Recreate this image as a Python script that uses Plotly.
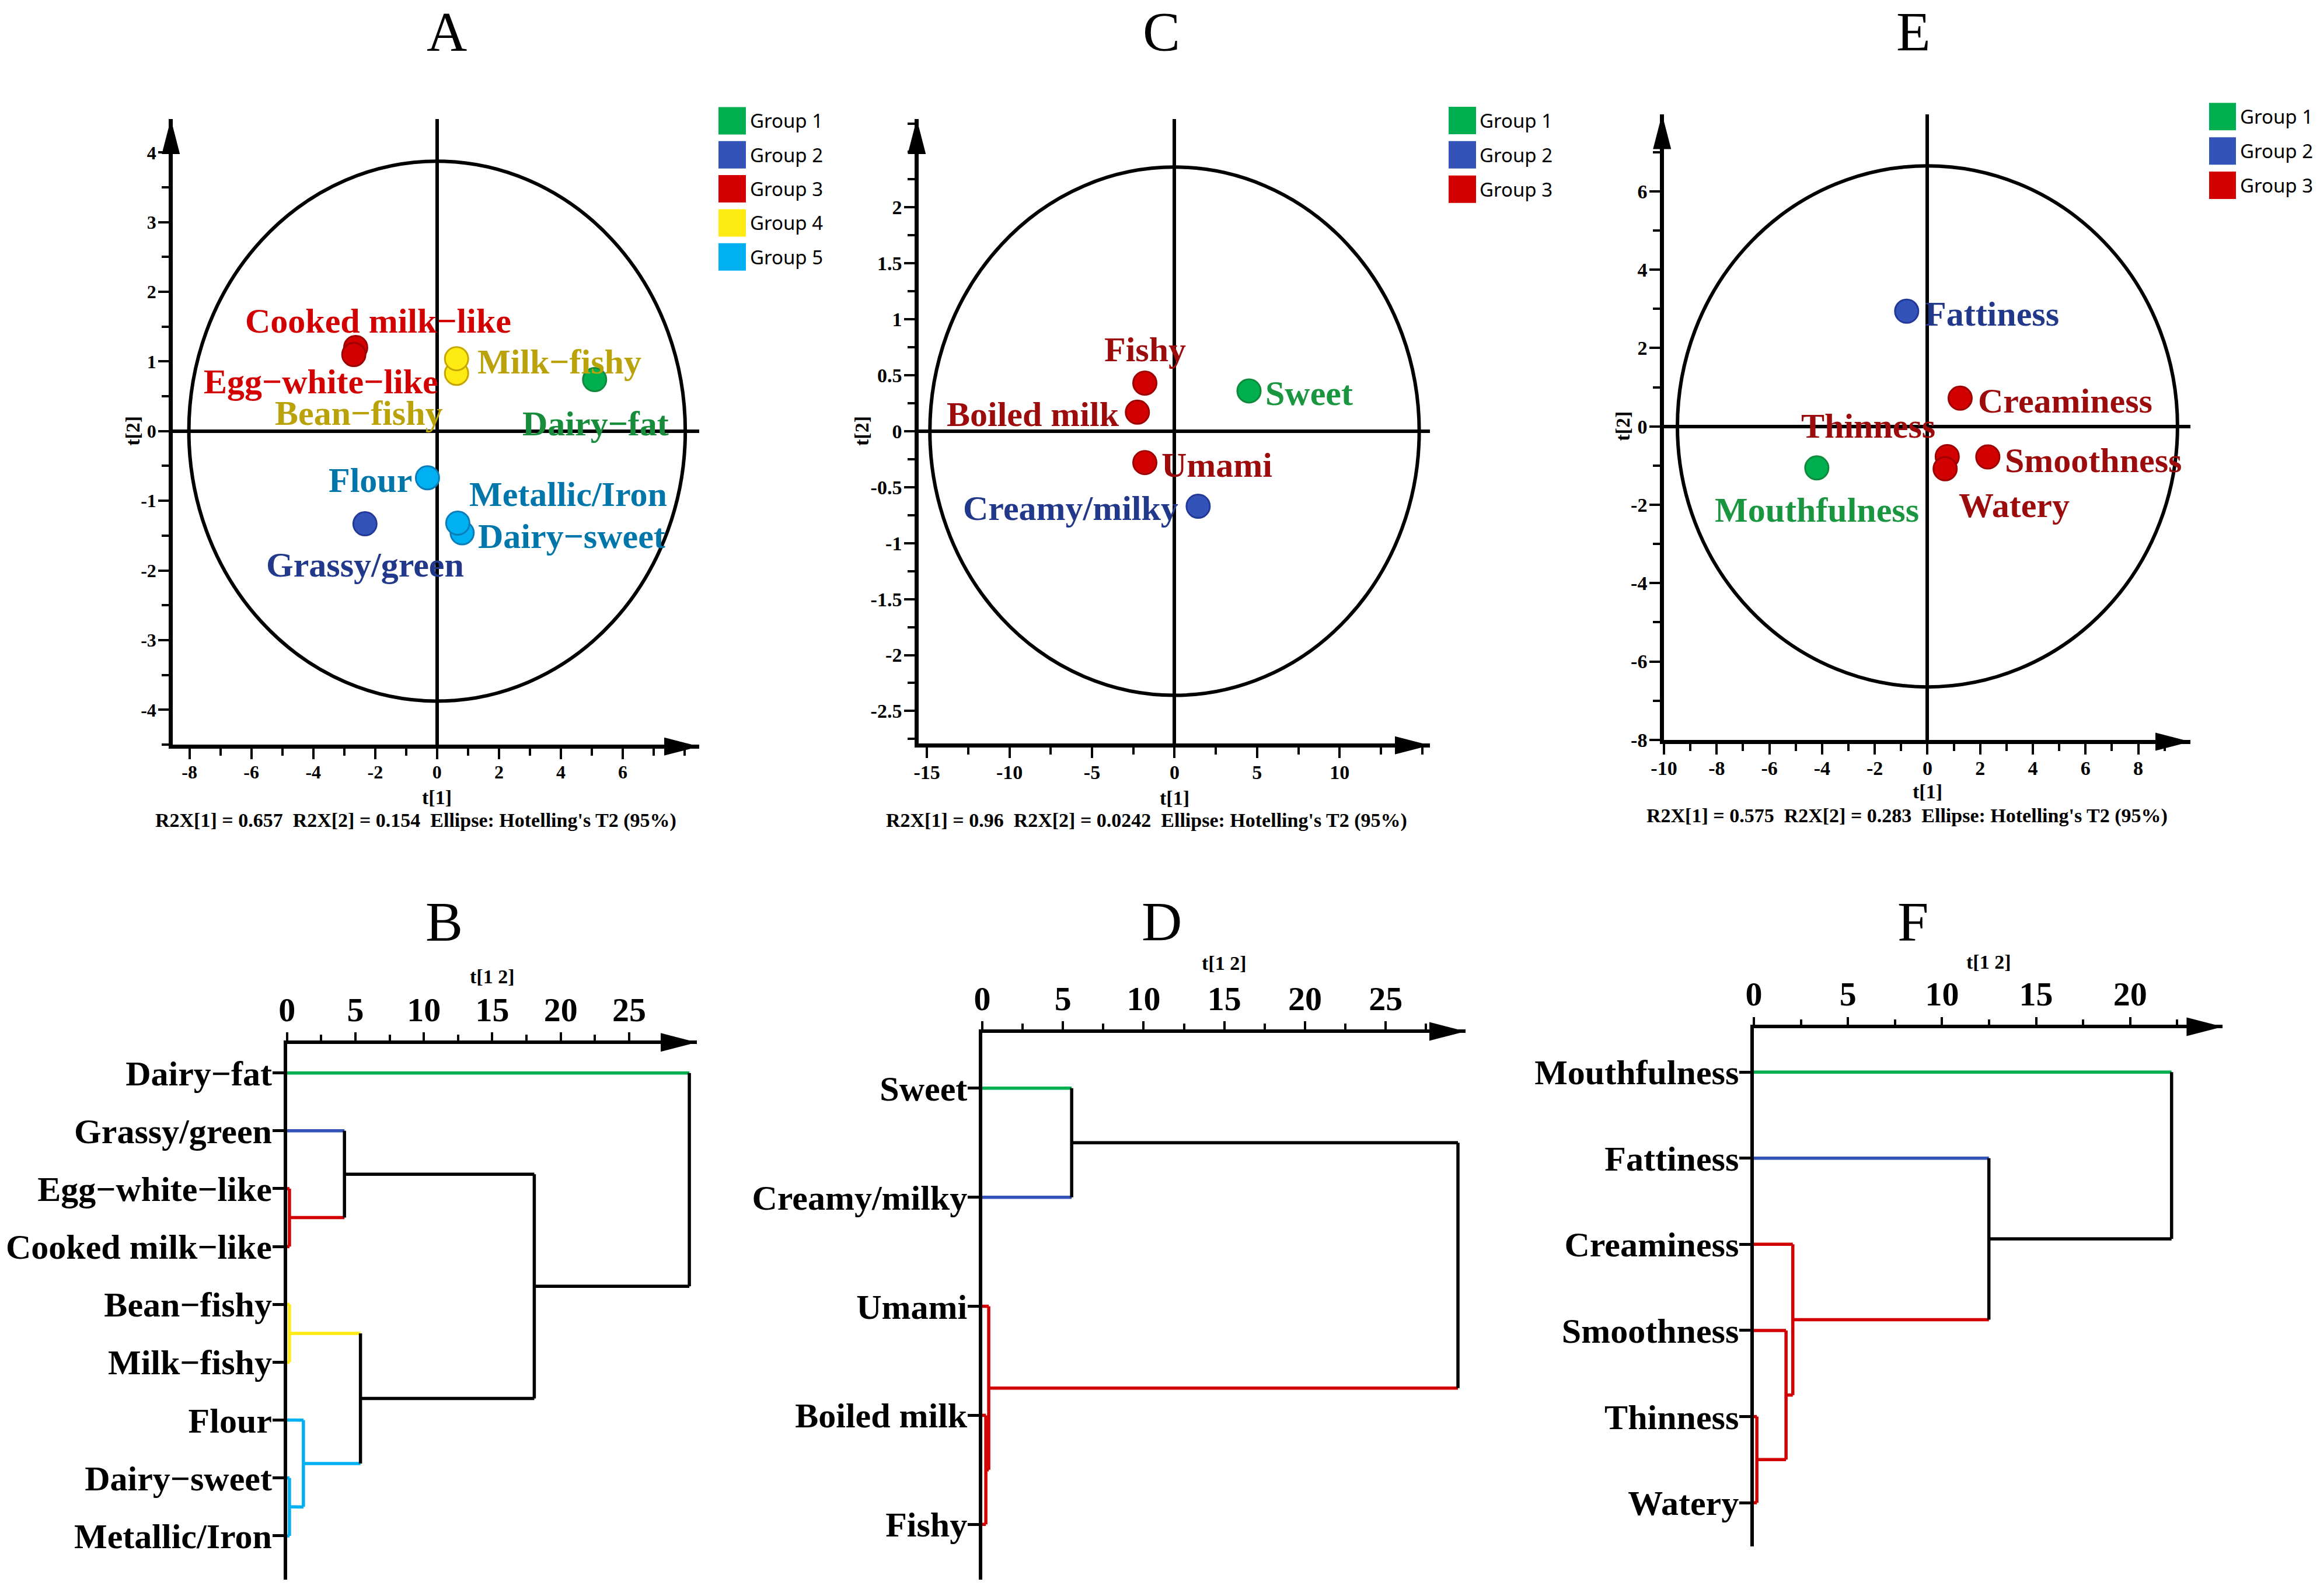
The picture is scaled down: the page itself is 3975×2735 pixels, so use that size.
import plotly.graph_objects as go

# ======================= DATA =======================
GROUP_NAMES = ["Group 1", "Group 2", "Group 3", "Group 4", "Group 5"]

# Panel A - PCA of aroma attributes
A_ATTR = ["Cooked milk−like", "Egg−white−like", "Bean−fishy", "Milk−fishy", "Dairy−fat",
          "Flour", "Grassy/green", "Dairy−sweet", "Metallic/Iron"]
A_T1 = [-2.63, -2.69, 0.63, 0.63, 5.09, -0.31, -2.33, 0.81, 0.67]
A_T2 = [1.20, 1.10, 0.83, 1.04, 0.74, -0.67, -1.33, -1.46, -1.32]
A_GROUP = [3, 3, 4, 4, 1, 5, 2, 5, 5]
A_R2X = ["0.657", "0.154"]
A_ELLIPSE = [8.02, 3.875]
A_XTICKS = [-8, -6, -4, -2, 0, 2, 4, 6]
A_YTICKS = [-4, -3, -2, -1, 0, 1, 2, 3, 4]

# Panel C - PCA of taste attributes
C_ATTR = ["Fishy", "Boiled milk", "Umami", "Creamy/milky", "Sweet"]
C_T1 = [-1.80, -2.25, -1.80, 1.43, 4.51]
C_T2 = [0.43, 0.17, -0.28, -0.67, 0.36]
C_GROUP = [3, 3, 3, 2, 1]
C_R2X = ["0.96", "0.0242"]
C_ELLIPSE = [14.82, 2.36]
C_XTICKS = [-15, -10, -5, 0, 5, 10]
C_YTICKS = [-2.5, -2, -1.5, -1, -0.5, 0, 0.5, 1, 1.5, 2]

# Panel E - PCA of mouthfeel attributes
E_ATTR = ["Fattiness", "Creaminess", "Thinness", "Watery", "Smoothness", "Mouthfulness"]
E_T1 = [-0.79, 1.24, 0.75, 0.67, 2.29, -4.20]
E_T2 = [2.94, 0.72, -0.77, -1.08, -0.78, -1.06]
E_GROUP = [2, 3, 3, 3, 3, 1]
E_R2X = ["0.575", "0.283"]
E_ELLIPSE = [9.49, 6.65]
E_XTICKS = [-10, -8, -6, -4, -2, 0, 2, 4, 6, 8]
E_YTICKS = [-8, -6, -4, -2, 0, 2, 4, 6]

# Panel B - dendrogram (leaf order, merges: node a + node b at height)
B_LEAVES = ["Dairy−fat", "Grassy/green", "Egg−white−like", "Cooked milk−like", "Bean−fishy",
            "Milk−fishy", "Flour", "Dairy−sweet", "Metallic/Iron"]
B_JOIN_A = [2, 4, 7, 6, 1, 10, 13, 0]
B_JOIN_B = [3, 5, 8, 11, 9, 12, 14, 15]
B_HEIGHT = [0.18, 0.18, 0.18, 1.2, 4.2, 5.37, 18.07, 29.4]
B_XTICKS = [0, 5, 10, 15, 20, 25]

# Panel D - dendrogram
D_LEAVES = ["Sweet", "Creamy/milky", "Umami", "Boiled milk", "Fishy"]
D_JOIN_A = [3, 2, 0, 7]
D_JOIN_B = [4, 5, 1, 6]
D_HEIGHT = [0.22, 0.40, 5.54, 29.48]
D_XTICKS = [0, 5, 10, 15, 20, 25]

# Panel F - dendrogram
F_LEAVES = ["Mouthfulness", "Fattiness", "Creaminess", "Smoothness", "Thinness", "Watery"]
F_JOIN_A = [4, 3, 2, 1, 0]
F_JOIN_B = [5, 6, 7, 8, 9]
F_HEIGHT = [0.16, 1.71, 2.07, 12.49, 22.2]
F_XTICKS = [0, 5, 10, 15, 20]

# ======================= STYLE / LAYOUT =======================
W, H = 3975, 2735
SERIF = "Liberation Serif"
SANS = "Noto Sans"
GROUP_FILL = ["#00B050", "#3353B8", "#D20000", "#FFEB14", "#00B0F0"]
GROUP_EDGE = ["#10893A", "#23399A", "#9E0000", "#C8A600", "#0A7DB8"]
LABEL_BRIGHT = ["#178C3B", "#22388A", "#D20000", "#B9A20A", "#0076AB"]
LABEL_DARK = ["#1A9641", "#22388A", "#9C0C0C", "#B9A20A", "#0076AB"]
AX_LW = 6.5


def fx(px):
    return px / W


def fy(py):
    return 1 - py / H


def fmt(v):
    return "%g" % v


fig = go.Figure()


def axis_names(i):
    return ("x" if i == 1 else "x%d" % i), ("y" if i == 1 else "y%d" % i)


def arrow_right(px, py, length=60, half=15):
    fig.add_shape(type="path", xref="paper", yref="paper", xsizemode="pixel",
                  ysizemode="pixel", xanchor=fx(px), yanchor=fy(py),
                  path="M 0 0 L %d %g L %d %g Z" % (-length, half, -length, -half),
                  fillcolor="black", line=dict(width=0), layer="above")


def arrow_up(px, py, length=60, half=15):
    fig.add_shape(type="path", xref="paper", yref="paper", xsizemode="pixel",
                  ysizemode="pixel", xanchor=fx(px), yanchor=fy(py),
                  path="M 0 0 L %g %d L %g %d Z" % (-half, -length, half, -length),
                  fillcolor="black", line=dict(width=0), layer="above")


TICKFONT = dict(family=SERIF, size=34, color="black", weight="bold")

PCA_CFG = [
    dict(i=1, attr=A_ATTR, t1=A_T1, t2=A_T2, grp=A_GROUP, r2x=A_R2X, ell=A_ELLIPSE,
         xt=A_XTICKS, yt=A_YTICKS, xminor=1, yminor=0.5, tfs=32,
         px=(296, 1198), py=(1276, 204), xr=(-8.54, 8.47), yr=(-4.5, 4.48),
         labcol=LABEL_BRIGHT, t1off=-90, t2off=-68, capdx=-36, capdy=-130,
         offs=[(39, 48), (-56, -45), (-167, -66), (176, -3), (2, -74), (-98, -2), (0, -68),
               (188, -4), (189, 51)]),
    dict(i=2, attr=C_ATTR, t1=C_T1, t2=C_T2, grp=C_GROUP, r2x=C_R2X, ell=C_ELLIPSE,
         xt=C_XTICKS, yt=C_YTICKS, xminor=2.5, yminor=0.25, tfs=34,
         px=(1574, 2450), py=(1274, 203.9), xr=(-15.5, 15.47), yr=(-2.79, 2.79),
         labcol=LABEL_DARK, t1off=-93, t2off=-97, capdx=-48, capdy=-132,
         offs=[(0, 59), (-179, -2), (123, -2), (-218, -2), (103, -2)]),
    dict(i=3, attr=E_ATTR, t1=E_T1, t2=E_T2, grp=E_GROUP, r2x=E_R2X, ell=E_ELLIPSE,
         xt=E_XTICKS, yt=E_YTICKS, xminor=1, yminor=1, tfs=34,
         px=(2851, 3753), py=(1267.8, 195.6), xr=(-10, 9.98), yr=(-8, 7.97),
         labcol=LABEL_DARK, t1off=-89, t2off=-70, capdx=-35, capdy=-130,
         offs=[(146, -3), (180, -3), (-135, 54), (118, -61), (181, -4), (0, -70)]),
]
LABEL_DY = -2

for c in PCA_CFG:
    xa, ya = axis_names(c["i"])
    xk, yk = xa.replace("x", "xaxis"), ya.replace("y", "yaxis")
    tfont = dict(TICKFONT, size=c["tfs"])
    common = dict(showline=True, linecolor="black", linewidth=AX_LW, showgrid=False,
                  zeroline=True, zerolinecolor="black", zerolinewidth=6,
                  ticks="outside", ticklen=18, tickwidth=4.3, tickcolor="black",
                  tickmode="array", tickfont=tfont, automargin=False, fixedrange=True)
    minor_common = dict(ticks="outside", tickmode="linear", tick0=0, ticklen=12,
                        tickwidth=4.3, tickcolor="black", showgrid=False)
    fig.update_layout(**{
        xk: dict(domain=[fx(c["px"][0]), fx(c["px"][1])], range=list(c["xr"]), anchor=ya,
                 tickvals=c["xt"], ticktext=[fmt(v) for v in c["xt"]], ticklabelstandoff=-5,
                 minor=dict(dtick=c["xminor"], **minor_common), **common),
        yk: dict(domain=[fy(c["py"][0]), fy(c["py"][1])], range=list(c["yr"]), anchor=xa,
                 tickvals=c["yt"], ticktext=[fmt(v) for v in c["yt"]], ticklabelstandoff=-3,
                 minor=dict(dtick=c["yminor"], **minor_common), **common),
    })
    # Hotelling T2 ellipse
    fig.add_shape(type="circle", xref=xa, yref=ya,
                  x0=-c["ell"][0], x1=c["ell"][0], y0=-c["ell"][1], y1=c["ell"][1],
                  line=dict(color="black", width=6), layer="below")
    # score points
    fig.add_trace(go.Scatter(
        x=c["t1"], y=c["t2"], mode="markers", xaxis=xa, yaxis=ya, showlegend=False,
        text=c["attr"], hoverinfo="text",
        marker=dict(size=40, color=[GROUP_FILL[g - 1] for g in c["grp"]],
                    line=dict(color=[GROUP_EDGE[g - 1] for g in c["grp"]], width=3))))
    # point labels
    for name, x, y, g, (dx, dy) in zip(c["attr"], c["t1"], c["t2"], c["grp"], c["offs"]):
        fig.add_annotation(x=x, y=y, xref=xa, yref=ya, text=name, showarrow=False,
                           xshift=dx, yshift=dy + LABEL_DY, xanchor="center",
                           yanchor="middle",
                           font=dict(family=SERIF, size=60, color=c["labcol"][g - 1],
                                     weight="bold"))
    # axis titles and caption
    fig.add_annotation(x=0, y=0, xref=xa, yref=ya + " domain", text="t[1]", showarrow=False,
                       yshift=c["t1off"], xanchor="center", yanchor="middle", font=TICKFONT)
    fig.add_annotation(x=0, y=0, xref=xa + " domain", yref=ya, text="t[2]", showarrow=False,
                       xshift=c["t2off"], textangle=-90, xanchor="center", yanchor="middle",
                       font=TICKFONT)
    cap = ("R2X[1] = %s \u00a0R2X[2] = %s \u00a0Ellipse: Hotelling's T2 (95%%)"
           % (c["r2x"][0], c["r2x"][1]))
    fig.add_annotation(x=0, y=0, xref=xa, yref=ya + " domain", text=cap, showarrow=False,
                       xshift=c["capdx"], yshift=c["capdy"], xanchor="center",
                       yanchor="middle", font=TICKFONT)
    arrow_right(c["px"][1], c["py"][0] + AX_LW / 2, 60, 15.5)
    arrow_up(c["px"][0] - AX_LW / 2, c["py"][1], 60, 15.5)


# ---------- dendrograms ----------
def dendro_segments(n, ja, jb, hts, leaf_groups):
    pos = {i: float(i) for i in range(n)}
    hgt = {i: 0.0 for i in range(n)}
    grp = {i: leaf_groups[i] for i in range(n)}
    segs = []
    node = n
    for a, b, h in zip(ja, jb, hts):
        g = grp[a] if grp[a] == grp[b] else None
        segs.append(([hgt[a], h], [pos[a], pos[a]], grp[a]))
        segs.append(([hgt[b], h], [pos[b], pos[b]], grp[b]))
        segs.append(([h, h], [pos[a], pos[b]], g))
        pos[node] = (pos[a] + pos[b]) / 2
        hgt[node] = h
        grp[node] = g
        node += 1
    return segs


DEN_CFG = [
    dict(i=4, leaves=B_LEAVES, ja=B_JOIN_A, jb=B_JOIN_B, h=B_HEIGHT, xt=B_XTICKS,
         lookup=dict(zip(A_ATTR, A_GROUP)), px=(491.7, 1194), py=(2707, 1789.1),
         xr=(0, 29.95), yr=(8.757, -0.5), tlab=116),
    dict(i=5, leaves=D_LEAVES, ja=D_JOIN_A, jb=D_JOIN_B, h=D_HEIGHT, xt=D_XTICKS,
         lookup=dict(zip(C_ATTR, C_GROUP)), px=(1683, 2511), py=(2707, 1770.2),
         xr=(0, 29.95), yr=(4.507, -0.506), tlab=120),
    dict(i=6, leaves=F_LEAVES, ja=F_JOIN_A, jb=F_JOIN_B, h=F_HEIGHT, xt=F_XTICKS,
         lookup=dict(zip(E_ATTR, E_GROUP)), px=(3005, 3808.4), py=(2650, 1762.3),
         xr=(0, 24.92), yr=(5.507, -0.507), tlab=114),
]

for c in DEN_CFG:
    xa, ya = axis_names(c["i"])
    xk, yk = xa.replace("x", "xaxis"), ya.replace("y", "yaxis")
    leaf_groups = [c["lookup"][l] for l in c["leaves"]]
    segs = dendro_segments(len(c["leaves"]), c["ja"], c["jb"], c["h"], leaf_groups)
    colors = {}
    for xs, ys, g in segs:
        col = "black" if g is None else GROUP_FILL[g - 1]
        colors.setdefault(col, ([], []))
        colors[col][0].extend(xs + [None])
        colors[col][1].extend(ys + [None])
    for col in sorted(colors, key=lambda k: k == "black"):
        xs, ys = colors[col]
        fig.add_trace(go.Scatter(x=xs, y=ys, mode="lines", xaxis=xa, yaxis=ya,
                                 showlegend=False, hoverinfo="skip", cliponaxis=False,
                                 line=dict(color=col, width=5.5)))
    fig.update_layout(**{
        xk: dict(domain=[fx(c["px"][0]), fx(c["px"][1])], range=list(c["xr"]), anchor=ya,
                 side="top", showline=True, linecolor="black", linewidth=5.5,
                 showgrid=False, zeroline=False, ticks="outside", ticklen=14, tickwidth=4,
                 tickcolor="black", tickmode="array", tickvals=c["xt"],
                 ticktext=[fmt(v) for v in c["xt"]],
                 tickfont=dict(family=SERIF, size=58, color="black", weight="bold"),
                 ticklabelstandoff=-4, automargin=False,
                 minor=dict(ticks="outside", tickmode="linear", tick0=0, dtick=2.5,
                            ticklen=10, tickwidth=4, tickcolor="black", showgrid=False),
                 fixedrange=True),
        yk: dict(domain=[fy(c["py"][0]), fy(c["py"][1])], range=list(c["yr"]), anchor=xa,
                 showline=True, linecolor="black", linewidth=5.5, showgrid=False,
                 zeroline=False, ticks="outside", ticklen=19, tickwidth=5, tickcolor="black",
                 tickmode="array", tickvals=list(range(len(c["leaves"]))),
                 ticktext=c["leaves"], automargin=False,
                 tickfont=dict(family=SERIF, size=60, color="black", weight="bold"),
                 ticklabelstandoff=-11, fixedrange=True),
    })
    arrow_right(c["px"][1], c["py"][1] - 2.75, 62, 16)
    fig.add_annotation(x=0.5, y=1, xref=xa + " domain", yref=ya + " domain", text="t[1 2]",
                       showarrow=False, yshift=c["tlab"], xanchor="center",
                       yanchor="middle", font=TICKFONT)

# ---------- legends (manual squares) ----------
LEG_CFG = [
    dict(n=5, x=(1231, 1278), y0=207, dy=58.3, tx=1283),
    dict(n=3, x=(2482, 2529), y0=206.4, dy=58.9, tx=2533),
    dict(n=3, x=(3785, 3831), y0=199.8, dy=58.9, tx=3836),
]
for L in LEG_CFG:
    for k in range(L["n"]):
        yc = L["y0"] + k * L["dy"]
        fig.add_shape(type="rect", xref="paper", yref="paper",
                      x0=fx(L["x"][0]), x1=fx(L["x"][1]), y0=fy(yc + 23.5), y1=fy(yc - 23.5),
                      fillcolor=GROUP_FILL[k], line=dict(width=0))
        fig.add_annotation(x=fx(L["tx"]), y=fy(yc), xref="paper", yref="paper",
                           text=GROUP_NAMES[k], showarrow=False, xanchor="left",
                           yanchor="middle", font=dict(family=SANS, size=33, color="black"))

# ---------- panel letters ----------
PANEL_LETTERS = ["A", "C", "E", "B", "D", "F"]
LETTER_POS = [(765, 0), (1990, 0), (3278, 0), (761, 1525), (1990, 1525), (3277, 1525)]
for letter, (lx, ly) in zip(PANEL_LETTERS, LETTER_POS):
    fig.add_annotation(x=fx(lx), y=fy(ly), xref="paper", yref="paper", text=letter,
                       showarrow=False, xanchor="center", yanchor="top", borderpad=0,
                       font=dict(family=SERIF, size=96, color="black"))

fig.update_layout(width=W, height=H, margin=dict(l=0, r=0, t=0, b=0, autoexpand=False),
                  paper_bgcolor="white", plot_bgcolor="white", showlegend=False,
                  hovermode="closest")

fig.write_html("out.html", config={"displayModeBar": False},
               post_script="document.body.style.margin='0';")
